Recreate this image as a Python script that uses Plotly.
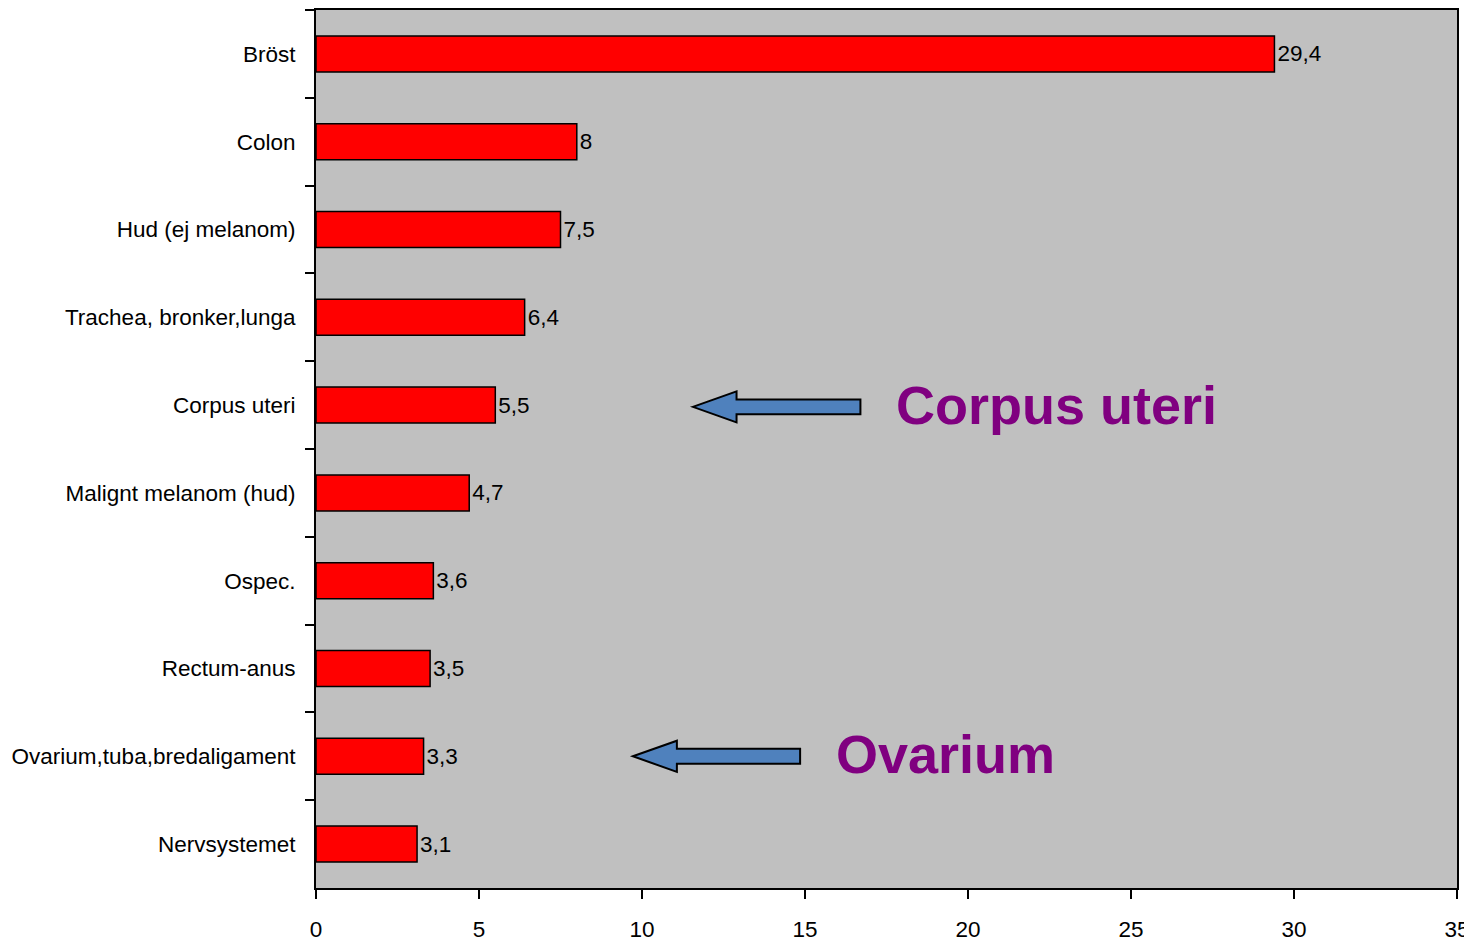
import plotly.graph_objects as go

# data
sites = ["Bröst", "Colon", "Hud (ej melanom)", "Trachea, bronker,lunga", "Corpus uteri",
         "Malignt melanom (hud)", "Ospec.", "Rectum-anus", "Ovarium,tuba,bredaligament", "Nervsystemet"]
percent = [29.4, 8, 7.5, 6.4, 5.5, 4.7, 3.6, 3.5, 3.3, 3.1]
x_ticks = [0, 5, 10, 15, 20, 25, 30, 35]

labels = [f"{v:g}".replace(".", ",") for v in percent]

FONT = "Liberation Sans Narrow, Arial Narrow, Liberation Sans, Arial, sans-serif"
BOLD = "Liberation Sans, Arial, sans-serif"
FS = 22.5

fig = go.Figure()
fig.add_trace(go.Bar(
    x=percent, y=sites, orientation="h",
    marker=dict(color="#FF0000", line=dict(color="black", width=1.5)),
    width=0.41,
    text=labels, textposition="outside", constraintext="none", cliponaxis=False,
    textfont=dict(family=FONT, size=FS, color="black"),
))


def arrow(tip, base, tail, yc, head=0.177, shaft=0.085):
    # left pointing block arrow, x in data units, y in category index units
    return (f"M {tip},{yc} L {base},{yc - head} L {base},{yc - shaft} "
            f"L {tail},{yc - shaft} L {tail},{yc + shaft} L {base},{yc + shaft} "
            f"L {base},{yc + head} Z")


for tip, base, tail, yc in [(11.56, 12.9, 16.7, 4.02), (9.72, 11.07, 14.85, 8.0)]:
    fig.add_shape(type="path", xref="x", yref="y", path=arrow(tip, base, tail, yc),
                  fillcolor="#4F81BD", line=dict(color="black", width=2))

for txt, x, yc in [("Corpus uteri", 17.72, 4.0), ("Ovarium", 15.9, 7.97)]:
    fig.add_annotation(text=txt, x=x, y=yc, xref="x", yref="y", xanchor="left",
                       yanchor="middle", showarrow=False,
                       font=dict(family=BOLD, size=54, color="#800080", weight="bold"))

# page body adds an 8px offset, so the figure is sized to fill the rest of the window
fig.update_layout(
    width=1464, height=935,
    margin=dict(l=308, r=15, t=2, b=55),
    paper_bgcolor="white", plot_bgcolor="#C0C0C0",
    showlegend=False, bargap=0.59,
    font=dict(family=FONT, size=FS, color="black"),
)
fig.update_xaxes(range=[0, 35], tickvals=x_ticks, showgrid=False, zeroline=False,
                 showline=True, linecolor="black", linewidth=2, mirror=True,
                 ticks="outside", ticklen=9, tickwidth=1.5, tickcolor="black",
                 tickfont=dict(family=FONT, size=FS), ticklabelstandoff=11,
                 ticklabeloverflow="allow", automargin=False)
fig.update_yaxes(type="category", autorange="reversed", tickson="boundaries",
                 showgrid=False, showline=True, linecolor="black", linewidth=2, mirror=True,
                 ticks="outside", ticklen=9, tickwidth=1.5, tickcolor="black",
                 tickfont=dict(family=FONT, size=FS), ticklabelstandoff=14, automargin=False)

fig.write_html("out.html")
